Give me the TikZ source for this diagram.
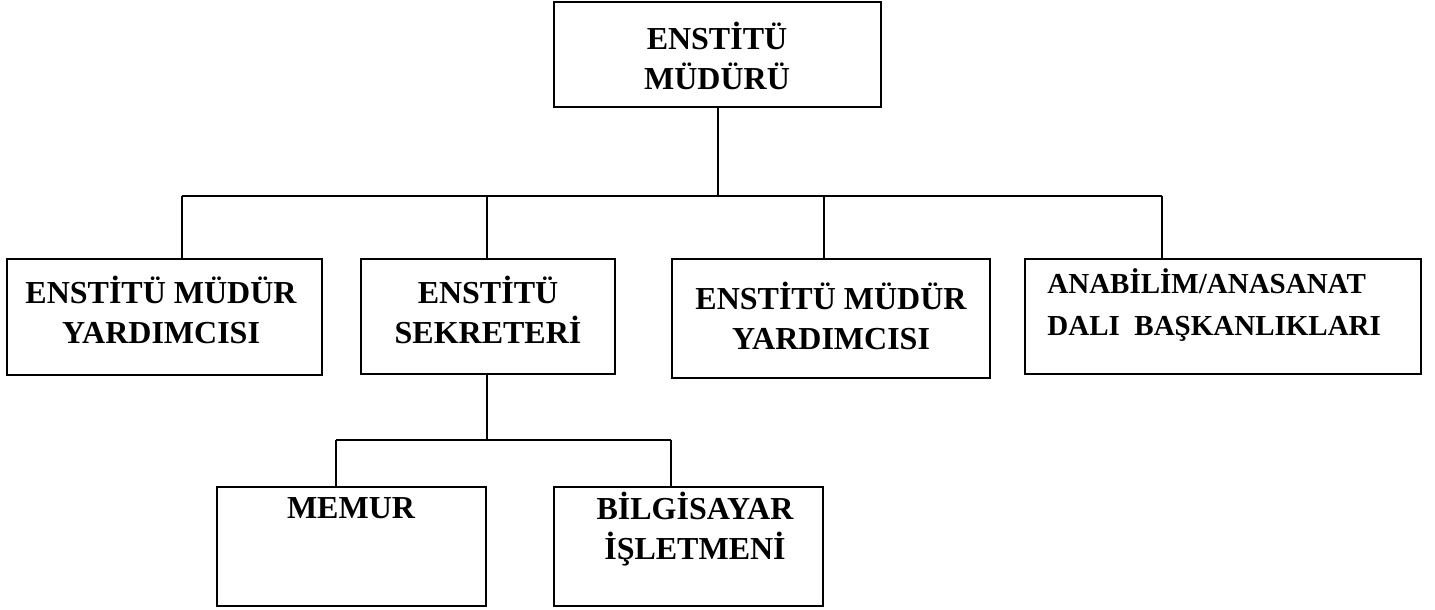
\documentclass[tikz,border=0pt]{standalone}
\usepackage{fontspec}
\setmainfont{Liberation Serif}
\begin{document}
\begin{tikzpicture}[x=0.5pt,y=-0.5pt,
  box/.style={draw, line width=1pt, inner sep=0pt},
  lbl/.style={font=\bfseries\fontsize{16}{20}\selectfont, align=center, inner sep=0pt},
  lbls/.style={font=\bfseries\fontsize{14.5}{21}\selectfont, align=left, inner sep=0pt, anchor=west},
  conn/.style={line width=1pt}]
\useasboundingbox (0,0) rectangle (1435,610);
% boxes
\node[box, minimum width=163.5pt, minimum height=52.5pt] (top) at (717.5,54.5) {};
\node[box, minimum width=157.5pt, minimum height=58pt] (b1) at (164.5,317) {};
\node[box, minimum width=127pt, minimum height=57.5pt] (b2) at (488,316.5) {};
\node[box, minimum width=159pt, minimum height=59.5pt] (b3) at (831,318.5) {};
\node[box, minimum width=198pt, minimum height=57.5pt] (b4) at (1223,316.5) {};
\node[box, minimum width=134.5pt, minimum height=59.5pt] (memur) at (351.5,546.5) {};
\node[box, minimum width=134.5pt, minimum height=59.5pt] (bilg) at (688.5,546.5) {};
% labels
\node[lbl] (ttop) at (717,56) {ENSTİTÜ\\MÜDÜRÜ};
\node[lbl] (t1) at (161,310) {ENSTİTÜ MÜDÜR\\YARDIMCISI};
\node[lbl] (t2) at (488,310) {ENSTİTÜ\\SEKRETERİ};
\node[lbl] (t3) at (831,316) {ENSTİTÜ MÜDÜR\\YARDIMCISI};
\node[lbls] (t4) at (1047,305) {ANABİLİM/ANASANAT\\DALI~~BAŞKANLIKLARI};
\node[lbl] (tmemur) at (351,508) {MEMUR};
\node[lbl] (tbilg) at (695,529) {BİLGİSAYAR\\İŞLETMENİ};
% connectors
\coordinate (hub) at (717.5,196);
\coordinate (h1) at (182,196);
\coordinate (h2) at (487,196);
\coordinate (h3) at (824,196);
\coordinate (h4) at (1162,196);
\draw[conn] (top.south) -- (hub);
\draw[conn] (h1) -- (h4);
\draw[conn] (h1) -- (h1 |- b1.north);
\draw[conn] (h2) -- (h2 |- b2.north);
\draw[conn] (h3) -- (h3 |- b3.north);
\draw[conn] (h4) -- (h4 |- b4.north);
\coordinate (m0) at (487,440);
\coordinate (m1) at (336,440);
\coordinate (m2) at (671,440);
\draw[conn] (b2.south -| m0) -- (m0);
\draw[conn] (m1) -- (m2);
\draw[conn] (m1) -- (m1 |- memur.north);
\draw[conn] (m2) -- (m2 |- bilg.north);
\end{tikzpicture}
\end{document}
